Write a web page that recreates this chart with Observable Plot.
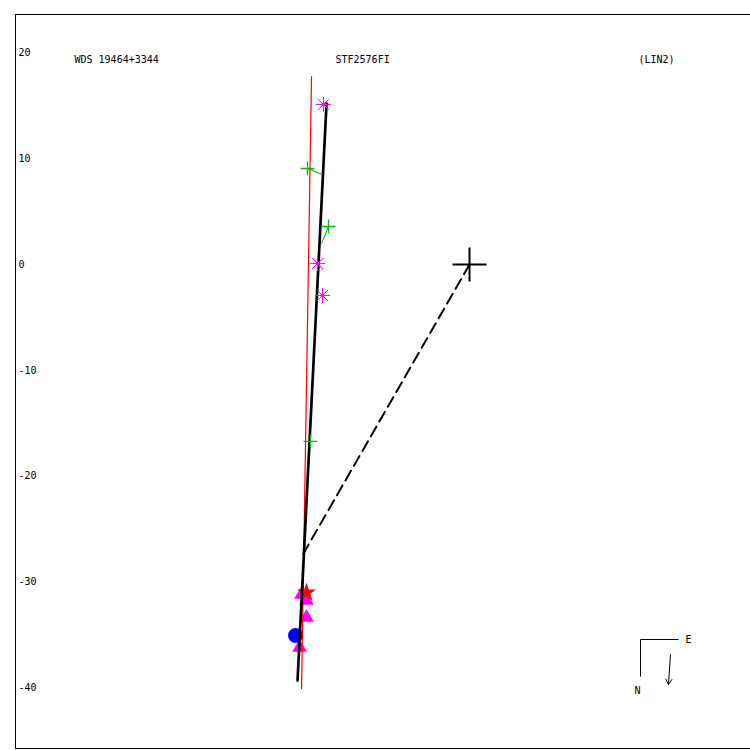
<!DOCTYPE html>
<html><head><meta charset="utf-8">
<script src="https://cdn.jsdelivr.net/npm/d3@7"></script>
<script src="https://cdn.jsdelivr.net/npm/@observablehq/plot@0.6"></script>
<style>body{margin:0;background:#fff} svg{display:block}</style>
</head><body><div id="chart"></div>
<script>
// ---- data (arcsec offsets) ----
const yTicks = [20, 10, 0, -10, -20, -30, -40];
const headerLabels = ["WDS 19464+3344", "STF2576FI", "(LIN2)"];
const asteriskObs = [{x: -13.80, y: 15.12}, {x: -14.36, y: 0.09}, {x: -13.89, y: -2.93}];
const plusObs = [{x: -15.31, y: 9.07}, {x: -13.32, y: 3.59}, {x: -15.02, y: -16.72}];
const plusFit = [{x: -13.89, y: 8.50}, {x: -13.98, y: 1.98}, {x: -15.02, y: -16.72}];
const triangleObs = [{x: -15.87, y: -31.18}, {x: -15.40, y: -31.75}, {x: -15.40, y: -33.36}, {x: -16.06, y: -36.19}];
const circleObs = [{x: -16.44, y: -35.06}];
const starObs = [{x: -15.40, y: -30.99}];
const fitLine = [{x: -13.51, y: 15.21}, {x: -16.25, y: -39.31}];
const redLine = [{x: -14.93, y: 17.76}, {x: -15.87, y: -40.06}];
const dashLine = [{x: 0, y: 0}, {x: -15.69, y: -27.31}];
const origin = [{x: 0, y: 0}];
const compassCorner = {x: 16.16, y: -35.43};
const compassE = {x: 19.75, y: -35.43};
const compassN = {x: 16.16, y: -38.93};
const compassArrow = [{x1: 18.99, y1: -36.85, x2: 18.80, y2: -39.69}];
const compassLabels = [{x: 20.69, y: -35.43, t: "E"}, {x: 15.87, y: -40.25, t: "N"}];

const xDomain = [-42.90, 26.55];
const yDomain = [-45.73, 23.62];
const font = "DejaVu Sans Mono, monospace";

const segs = [
  {x1: compassCorner.x, y1: compassCorner.y, x2: compassE.x, y2: compassE.y},
  {x1: compassCorner.x, y1: compassCorner.y, x2: compassN.x, y2: compassN.y}
];
const resid = plusObs.map((p, i) => ({x1: p.x, y1: p.y, x2: plusFit[i].x, y2: plusFit[i].y}));

const chart = Plot.plot({
  width: 750, height: 750,
  marginLeft: 15, marginTop: 14, marginRight: 0, marginBottom: 2,
  x: {domain: xDomain, axis: null},
  y: {domain: yDomain, axis: null},
  style: {fontFamily: font, fontSize: "10px", background: "#fff"},
  marks: [
    Plot.frame({anchor: "left", stroke: "#000"}),
    Plot.frame({anchor: "top", stroke: "#000"}),
    Plot.frame({anchor: "bottom", stroke: "#000"}),
    Plot.text(yTicks, {y: d => d, text: d => String(d), frameAnchor: "left", textAnchor: "start", dx: 3, fill: "#000", fontSize: 10}),
    Plot.text([headerLabels[0]], {frameAnchor: "top-left", dx: 59, dy: 41, textAnchor: "start", fill: "#000", fontSize: 10}),
    Plot.text([headerLabels[1]], {frameAnchor: "top-left", dx: 320, dy: 41, textAnchor: "start", fill: "#000", fontSize: 10}),
    Plot.text([headerLabels[2]], {frameAnchor: "top-left", dx: 623, dy: 41, textAnchor: "start", fill: "#000", fontSize: 10}),
    // observations
    Plot.dot(triangleObs, {x: "x", y: "y", symbol: "triangle", r: 5.5, fill: "#ff00ff", stroke: "none"}),
    Plot.dot(circleObs, {x: "x", y: "y", r: 7.5, fill: "#0000ff", stroke: "none"}),
    Plot.dot(starObs, {x: "x", y: "y", symbol: "star", r: 6, fill: "#ff0000", stroke: "none"}),
    // lines
    Plot.line(redLine, {x: "x", y: "y", stroke: "#ff0000", strokeWidth: 1.2}),
    Plot.line(dashLine, {x: "x", y: "y", stroke: "#000", strokeWidth: 2, strokeDasharray: "11,6"}),
    Plot.line(fitLine, {x: "x", y: "y", stroke: "#000", strokeWidth: 2.7}),
    Plot.link(resid, {x1: "x1", y1: "y1", x2: "x2", y2: "y2", stroke: "#00a000", strokeWidth: 1}),
    Plot.dot(plusObs, {x: "x", y: "y", symbol: "plus", r: 4.5, stroke: "#00c000", strokeWidth: 1.3}),
    Plot.dot(asteriskObs, {x: "x", y: "y", symbol: "plus", r: 5, stroke: "#ff00ff", strokeWidth: 1}),
    Plot.dot(asteriskObs, {x: "x", y: "y", symbol: "times", r: 5, stroke: "#ff00ff", strokeWidth: 1}),
    Plot.dot(asteriskObs, {x: "x", y: "y", r: 2, fill: "#ff00ff", stroke: "none"}),
    Plot.dot(origin, {x: "x", y: "y", symbol: "plus", r: 11, stroke: "#000", strokeWidth: 2}),
    // compass
    Plot.link(segs, {x1: "x1", y1: "y1", x2: "x2", y2: "y2", stroke: "#000", strokeWidth: 1}),
    Plot.arrow(compassArrow, {x1: "x1", y1: "y1", x2: "x2", y2: "y2", stroke: "#000", strokeWidth: 1, headLength: 9, bend: 0}),
    Plot.text(compassLabels, {x: "x", y: "y", text: "t", fill: "#000", fontSize: 10})
  ]
});
document.getElementById("chart").append(chart);
</script>
</body></html>
